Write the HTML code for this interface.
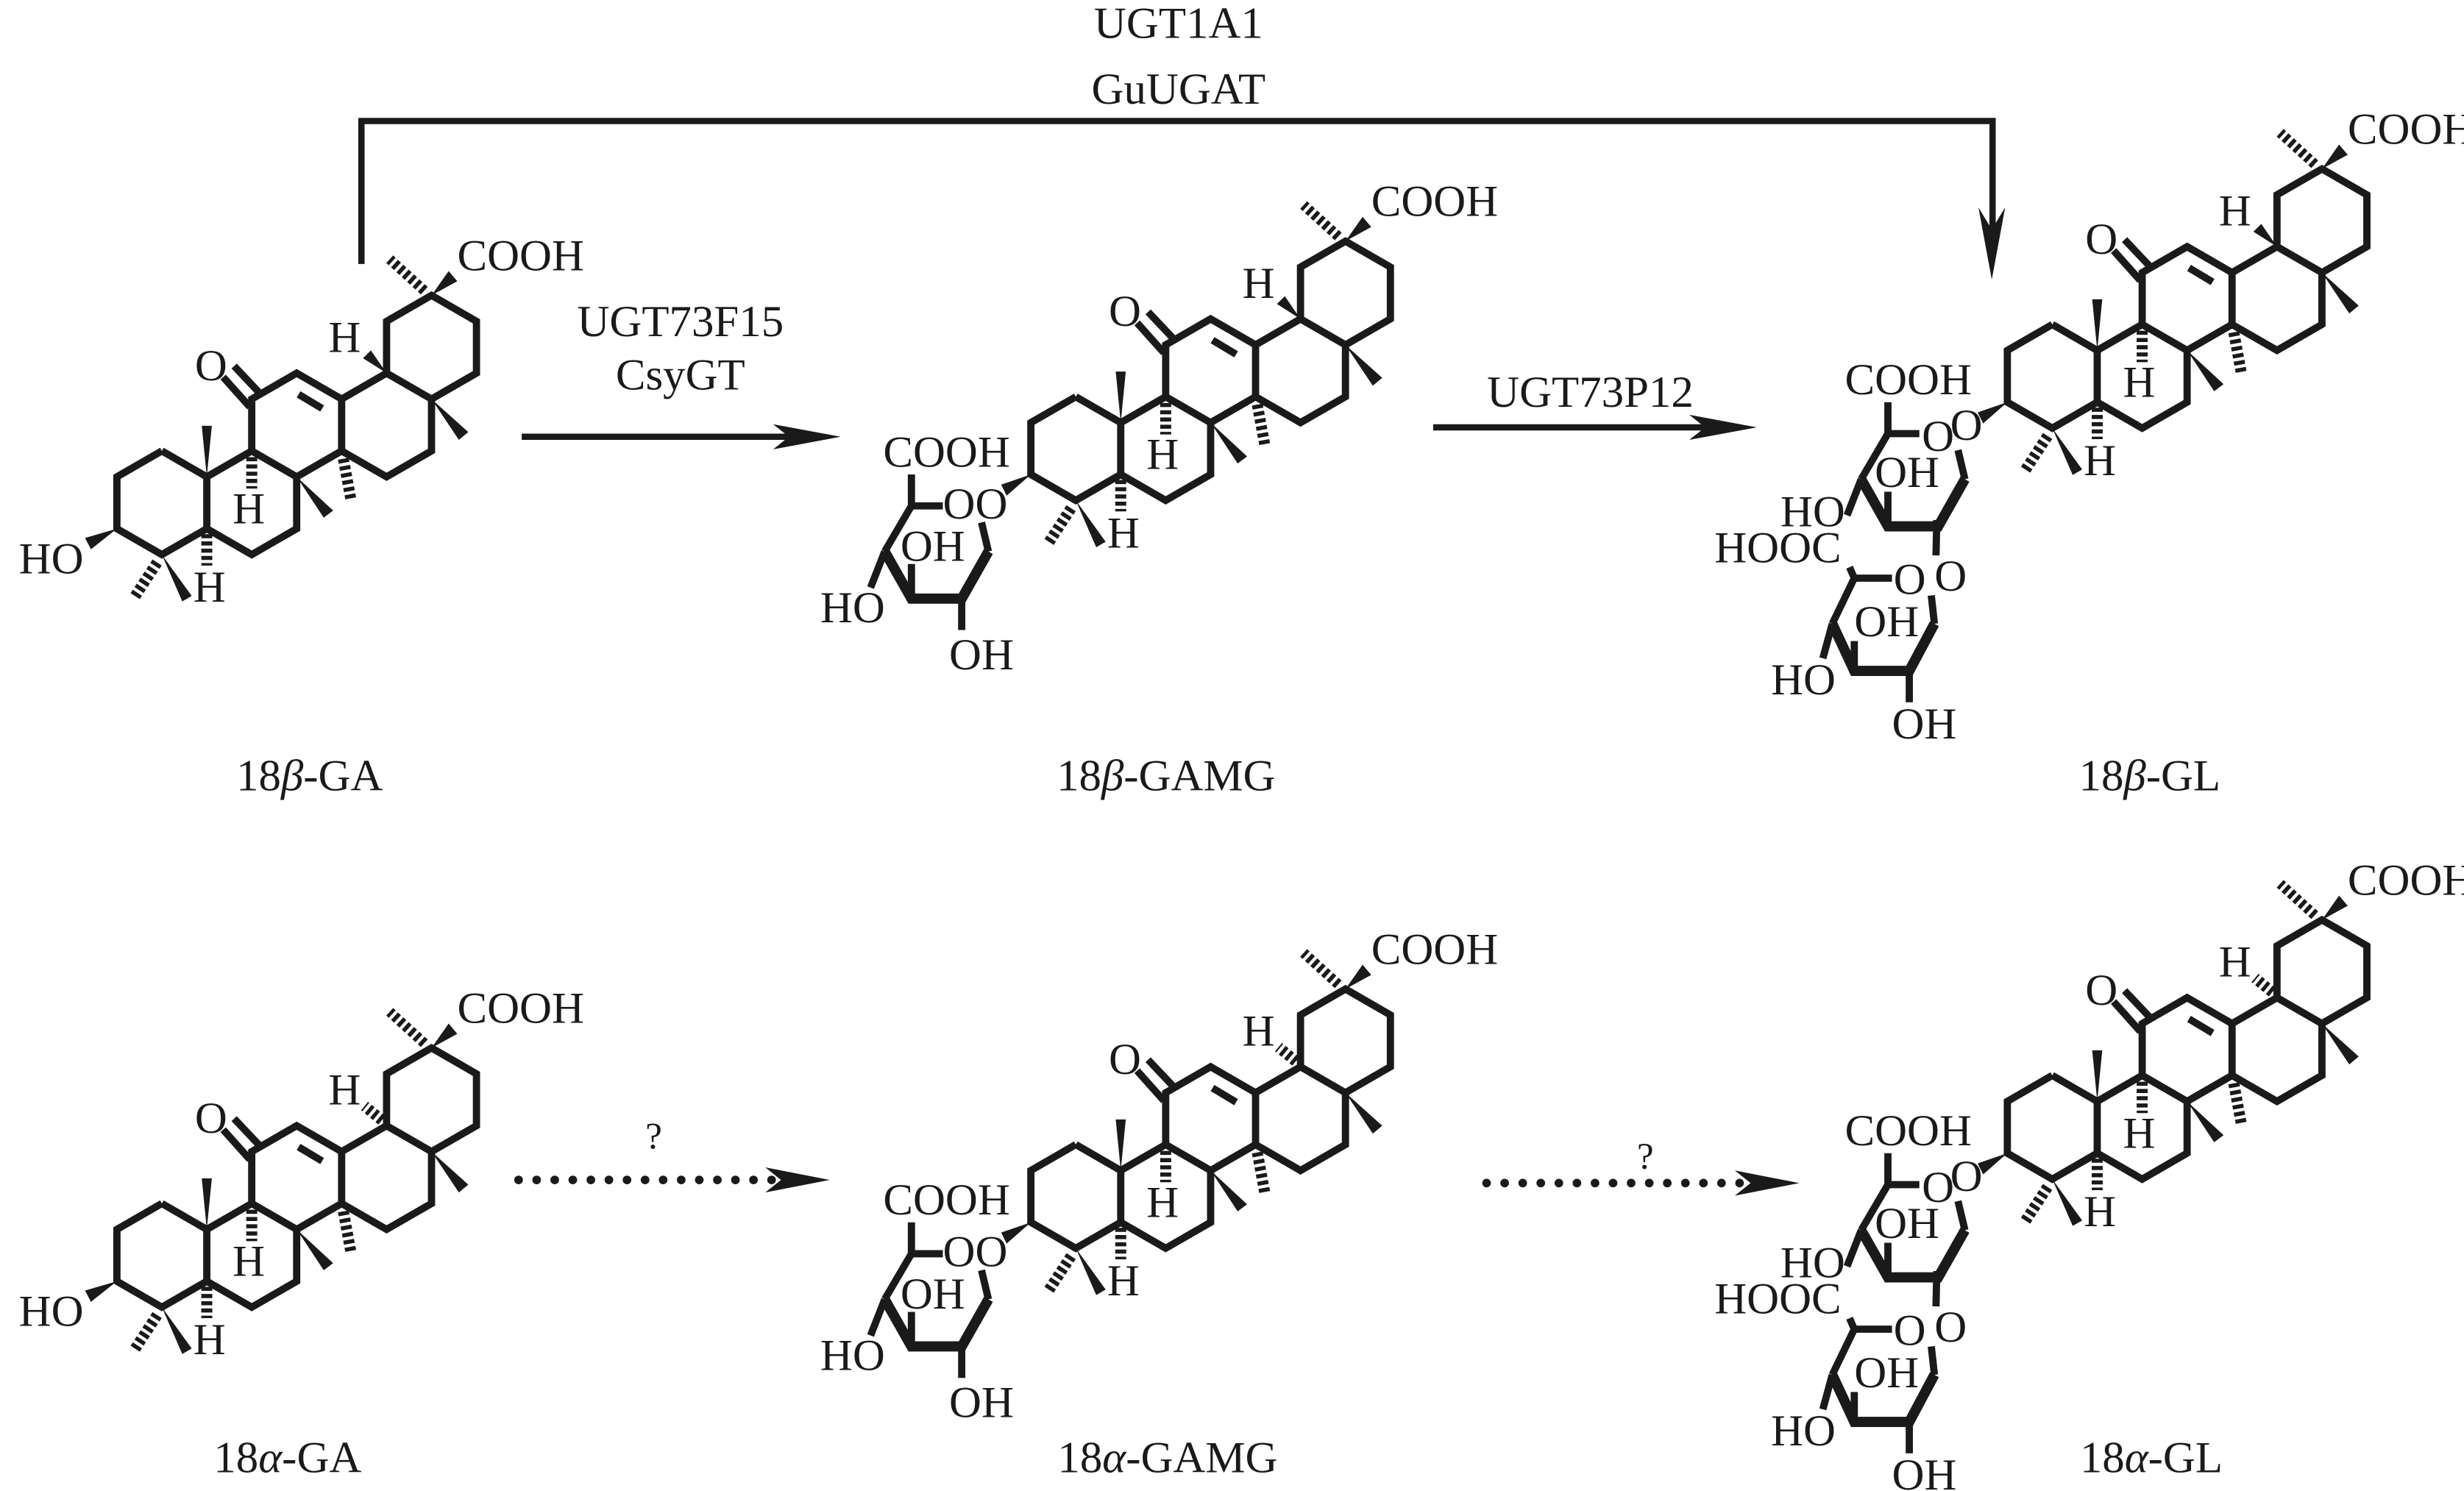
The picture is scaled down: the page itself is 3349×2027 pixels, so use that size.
<!DOCTYPE html>
<html><head><meta charset="utf-8"><style>
html,body{margin:0;padding:0;background:#fff;}
svg{display:block;}
text{font-family:"Liberation Serif",serif;font-size:28.5px;fill:#1a1a1a;}
</style></head><body>
<svg width="3349" height="2027" viewBox="0 0 1568 949" preserveAspectRatio="none" xmlns="http://www.w3.org/2000/svg">
<defs>
<g id="core">
 <g fill="none" stroke="#1a1a1a" stroke-width="4.6" stroke-linejoin="miter">
  <polyline points="103,287 74.4,303.5 74.4,336.5 103,353 131.6,336.5 131.6,303.5 103,287"/>
  <polyline points="131.6,303.5 160.2,287 188.8,303.5 188.8,336.5 160.2,353 131.6,336.5"/>
  <polyline points="160.2,287 160.2,254 188.8,237.5 217.4,254 217.4,287 188.8,303.5"/>
  <polyline points="217.4,254 246,237.5 274.6,254 274.6,287 246,303.5 217.4,287"/>
  <polyline points="246,237.5 246,204.5 274.6,188 303.2,204.5 303.2,237.5 274.6,254"/>
  <line x1="159" y1="259" x2="142" y2="240"/>
  <line x1="166" y1="251" x2="149" y2="233"/>
  <line x1="190" y1="251" x2="205" y2="260"/>
 </g>
 <g fill="#1a1a1a">
  <polygon points="103,353 122,379.3 116,382.8"/>
  <polygon points="131.6,303.5 128.4,271 134.8,271"/>
  <polygon points="188.8,303.5 212,325 206,329.5"/>
  <polygon points="274.6,254 298,275 292,280"/>
  <polygon points="274.6,188 285.5,172.5 291,179"/>
 </g>
 <g stroke="#1a1a1a" fill="none" stroke-dasharray="2.6 2">
  <line x1="100" y1="358" x2="85" y2="381" stroke-width="7"/>
  <line x1="131.6" y1="340" x2="131.6" y2="360" stroke-width="7"/>
  <line x1="160.2" y1="291" x2="160.2" y2="311" stroke-width="7"/>
  <line x1="218.5" y1="292" x2="223.5" y2="319" stroke-width="7"/>
  <line x1="270" y1="185" x2="248" y2="165" stroke-width="6.5"/>
 </g>
 <text x="124" y="242">O</text>
 <text x="123" y="383">H</text>
 <text x="148" y="333">H</text>
 <text x="209" y="224">H</text>
 <text x="291" y="172">COOH</text>
</g>
<polygon id="h18b" points="246,237.5 231,228 236,223" fill="#1a1a1a"/>
<line id="h18a" x1="243" y1="234" x2="232" y2="225" stroke="#1a1a1a" stroke-width="7" stroke-dasharray="2.4 2"/>
<g id="sug1">
 <polygon points="74.4,336.5 59,350 55.5,343" fill="#1a1a1a"/>
 <g fill="none" stroke="#1a1a1a" stroke-width="4.6">
  <polyline points="-1.6,336.5 -1.6,356.5 18.4,356.5"/>
  <polyline points="-1.6,356.5 -18.6,385.5"/>
  <line x1="-18.6" y1="385.5" x2="-27.6" y2="408.5"/>
  <line x1="-1.6" y1="415.5" x2="-1.6" y2="393.5"/>
  <polyline points="47.4,385.5 43,367"/>
 </g>
 <polyline points="47.4,385.5 30.4,415.5 -1.6,415.5 -18.6,385.5" fill="none" stroke="#1a1a1a" stroke-width="6.5" stroke-linejoin="miter"/>
</g>
<g id="sug2">
 <g fill="none" stroke="#1a1a1a" stroke-width="4.6">
  <line x1="29.5" y1="411.5" x2="29" y2="434"/>
  <polyline points="-26,441.5 -23,448.5 1,448.5"/>
  <line x1="-23" y1="448.5" x2="-37" y2="477.5"/>
  <line x1="28" y1="477.5" x2="26" y2="459.5"/>
  <line x1="-23" y1="507.5" x2="-23" y2="488.5"/>
  <line x1="-37" y1="477.5" x2="-43" y2="499.5"/>
  <line x1="12" y1="507.5" x2="12" y2="527.5"/>
 </g>
 <polyline points="28,477.5 12,507.5 -23,507.5 -37,477.5" fill="none" stroke="#1a1a1a" stroke-width="6.5"/>
 <text x="28" y="456.5">O</text>
 <text x="2" y="458.5">O</text>
 <text x="-112" y="438.5">HOOC</text>
 <text x="-23" y="485.5">OH</text>
 <text x="-76" y="522.5">HO</text>
 <text x="1" y="550.5">OH</text>
</g>
<g id="GA"><use href="#core"/>
 <polygon points="74.4,336.5 57.9,349.6 54.1,342.4" fill="#1a1a1a"/>
 <text x="12" y="365">HO</text></g>
<g id="GAMG"><use href="#core"/><use href="#sug1"/>
 <line x1="30.4" y1="415.5" x2="30.4" y2="435.5" stroke="#1a1a1a" stroke-width="4.6"/>
 <text x="18.4" y="364.5">OO</text>
 <text x="-19.6" y="331.5">COOH</text>
 <text x="22.4" y="460.5">OH</text>
 <text x="-8.6" y="391.5">OH</text>
 <text x="-59.6" y="430.5">HO</text></g>
<g id="GL"><use href="#core"/><use href="#sug1"/><use href="#sug2"/>
 <text x="38" y="360.5">O</text>
 <text x="20" y="367.5">O</text>
 <text x="-29" y="331.5">COOH</text>
 <text x="-10" y="390.5">OH</text>
 <text x="-70" y="415.5">HO</text></g>
</defs>

<use href="#GA"/><use href="#h18b"/>
<g transform="translate(581.6,-34.5)"><use href="#GAMG"/><use href="#h18b"/></g>
<g transform="translate(1203,-80.5)"><use href="#GL"/><use href="#h18b"/></g>
<g transform="translate(0,479)"><use href="#GA"/><use href="#h18a"/></g>
<g transform="translate(581.6,441.5)"><use href="#GAMG"/><use href="#h18a"/></g>
<g transform="translate(1203,397.5)"><use href="#GL"/><use href="#h18a"/></g>

<polyline points="230,168 230,77 1268,77 1268,150" fill="none" stroke="#1a1a1a" stroke-width="4"/>
<polygon points="1267.5,178 1259,132 1267.5,146 1276,132" fill="#1a1a1a"/>
<line x1="332" y1="278" x2="505" y2="278" stroke="#1a1a1a" stroke-width="4"/>
<polygon points="535,278 492,270 502,278 492,286" fill="#1a1a1a"/>
<line x1="912" y1="272" x2="1090" y2="272" stroke="#1a1a1a" stroke-width="4"/>
<polygon points="1118,272 1075,264 1085,272 1075,280" fill="#1a1a1a"/>
<line x1="330" y1="751" x2="500" y2="751" stroke="#1a1a1a" stroke-width="5.5" stroke-linecap="round" stroke-dasharray="0 11.5"/>
<polygon points="528,751 487,743 497,751 487,759" fill="#1a1a1a"/>
<line x1="946" y1="753" x2="1116" y2="753" stroke="#1a1a1a" stroke-width="5.5" stroke-linecap="round" stroke-dasharray="0 11.5"/>
<polygon points="1145,753 1104,745 1114,753 1104,761" fill="#1a1a1a"/>

<g text-anchor="middle">
 <text x="750" y="24">UGT1A1</text>
 <text x="750" y="66">GuUGAT</text>
 <text x="433" y="214">UGT73F15</text>
 <text x="433" y="248">CsyGT</text>
 <text x="1012" y="259">UGT73P12</text>
 <text x="416" y="731" style="font-size:24px">?</text>
 <text x="1047" y="744" style="font-size:24px">?</text>
 <text x="197" y="503">18<tspan font-style="italic">β</tspan>-GA</text>
 <text x="742" y="503">18<tspan font-style="italic">β</tspan>-GAMG</text>
 <text x="1368" y="503">18<tspan font-style="italic">β</tspan>-GL</text>
 <text x="183" y="937">18<tspan font-style="italic">α</tspan>-GA</text>
 <text x="743" y="937">18<tspan font-style="italic">α</tspan>-GAMG</text>
 <text x="1369" y="937">18<tspan font-style="italic">α</tspan>-GL</text>
</g>
</svg>
</body></html>
